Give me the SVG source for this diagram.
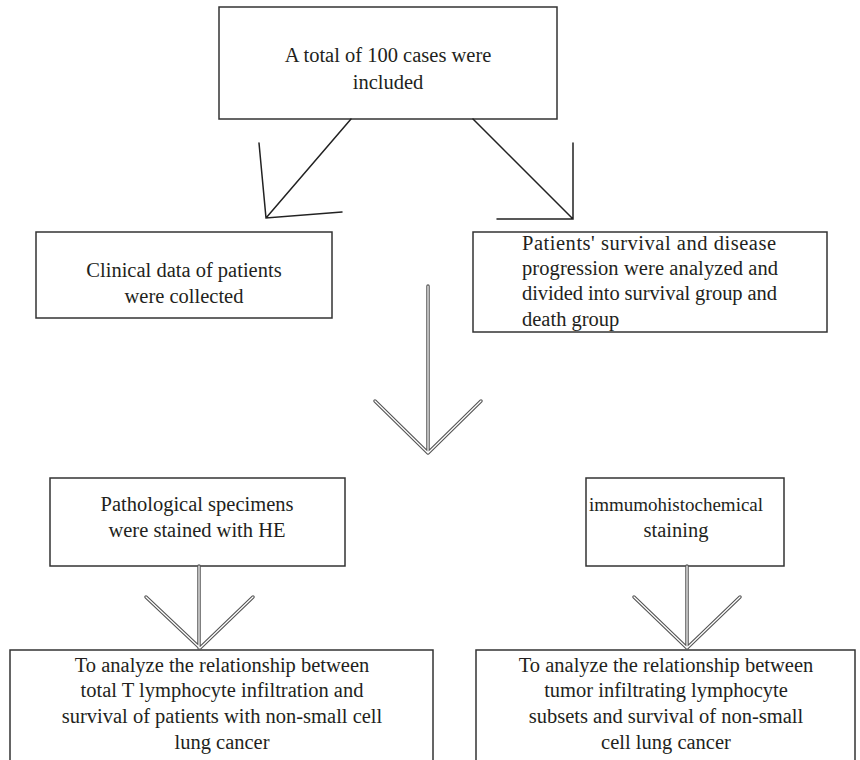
<svg xmlns="http://www.w3.org/2000/svg" width="860" height="760" viewBox="0 0 860 760">
<style>
.box{fill:#fff;stroke:#333;stroke-width:1.5}
.t{font-family:"Liberation Serif","Times New Roman",serif;font-size:20.5px;fill:#231f20;text-anchor:middle}
.tl{font-family:"Liberation Serif","Times New Roman",serif;font-size:20.5px;fill:#231f20}
.ln{stroke:#222;stroke-width:1.5;fill:none;stroke-linecap:round}
.dbo{stroke:#555;stroke-width:3.5;fill:none;stroke-linecap:round;stroke-linejoin:round}
.dbi{stroke:#fff;stroke-width:1.2;fill:none;stroke-linecap:round;stroke-linejoin:round}
</style>
<rect width="860" height="760" fill="#fff"/>
<g id="n1"><rect class="box" x="219" y="7" width="338" height="112"/>
<text class="t" x="388" y="62">A total of 100 cases were</text>
<text class="t" x="388" y="89">included</text></g>
<g id="n2"><rect class="box" x="36" y="232" width="296" height="86"/>
<text class="t" x="184" y="277">Clinical data of patients</text>
<text class="t" x="184" y="303">were collected</text></g>
<g id="n3"><rect class="box" x="473" y="232" width="354" height="100"/>
<text class="tl" x="522" y="250" textLength="254">Patients' survival and disease</text>
<text class="tl" x="522" y="275" textLength="256">progression were analyzed and</text>
<text class="tl" x="522" y="300" textLength="255">divided into survival group and</text>
<text class="tl" x="522" y="326">death group</text></g>
<g id="n4"><rect class="box" x="50" y="478" width="295" height="88"/>
<text class="t" x="197" y="511">Pathological specimens</text>
<text class="t" x="197" y="537">were stained with HE</text></g>
<g id="n5"><rect class="box" x="586" y="478" width="198" height="88"/>
<text class="t" x="676" y="511" style="font-size:19px">immumohistochemical</text>
<text class="t" x="676" y="537">staining</text></g>
<g id="n6"><rect class="box" x="10" y="650" width="423" height="120"/>
<text class="t" x="222" y="672">To analyze the relationship between</text>
<text class="t" x="222" y="697">total T lymphocyte infiltration and</text>
<text class="t" x="222" y="723">survival of patients with non-small cell</text>
<text class="t" x="222" y="749">lung cancer</text></g>
<g id="n7"><rect class="box" x="476" y="650" width="379" height="120"/>
<text class="t" x="666" y="672">To analyze the relationship between</text>
<text class="t" x="666" y="697">tumor infiltrating lymphocyte</text>
<text class="t" x="666" y="723">subsets and survival of non-small</text>
<text class="t" x="666" y="749">cell lung cancer</text></g>
<g id="connectors">
<path class="ln" d="M351,119 L266,218 M259,143 L266,218 L342,212"/>
<path class="ln" d="M473,119 L573,219 M573,143 L573,219 L497,219"/>
<path class="dbo" d="M428,286 L428,453 M375,401 L428,453 L481,401"/>
<path class="dbi" d="M428,286 L428,453 M375,401 L428,453 L481,401"/>
<path class="dbo" d="M199,566 L199,648 M146,597 L200,648 L253,597"/>
<path class="dbi" d="M199,566 L199,648 M146,597 L200,648 L253,597"/>
<path class="dbo" d="M687,566 L687,648 M634,597 L687,648 L740,597"/>
<path class="dbi" d="M687,566 L687,648 M634,597 L687,648 L740,597"/>
</g>
</svg>
